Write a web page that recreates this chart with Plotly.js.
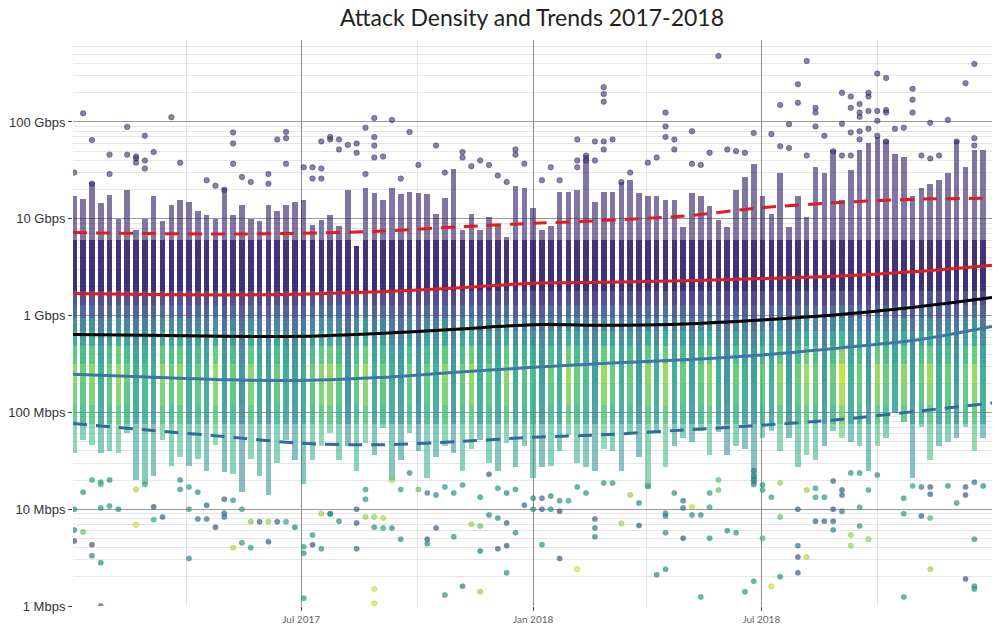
<!DOCTYPE html>
<html><head><meta charset="utf-8">
<script src="https://cdn.plot.ly/plotly-3.0.1.min.js"></script>
<style>html,body{margin:0;padding:0;background:#fff}#chart{width:1000px;height:631px}</style>
</head><body><div id="chart"></div>
<script>
// Weekly attack columns (week start)
const weeks = [
'2017-01-02','2017-01-09','2017-01-16','2017-01-23','2017-01-30','2017-02-06','2017-02-13','2017-02-20','2017-02-27',
'2017-03-06','2017-03-13','2017-03-20','2017-03-27','2017-04-03','2017-04-10','2017-04-17','2017-04-24',
'2017-05-01','2017-05-08','2017-05-15','2017-05-22','2017-05-29','2017-06-05','2017-06-12','2017-06-19','2017-06-26',
'2017-07-03','2017-07-10','2017-07-17','2017-07-24','2017-07-31','2017-08-07','2017-08-14','2017-08-21','2017-08-28',
'2017-09-04','2017-09-11','2017-09-18','2017-09-25','2017-10-02','2017-10-09','2017-10-16','2017-10-23','2017-10-30',
'2017-11-06','2017-11-13','2017-11-20','2017-11-27','2017-12-04','2017-12-11','2017-12-18','2017-12-25',
'2018-01-01','2018-01-08','2018-01-15','2018-01-22','2018-01-29','2018-02-05','2018-02-12','2018-02-19','2018-02-26',
'2018-03-05','2018-03-12','2018-03-19','2018-03-26','2018-04-02','2018-04-09','2018-04-16','2018-04-23','2018-04-30',
'2018-05-07','2018-05-14','2018-05-21','2018-05-28','2018-06-04','2018-06-11','2018-06-18','2018-06-25',
'2018-07-02','2018-07-09','2018-07-16','2018-07-23','2018-07-30','2018-08-06','2018-08-13','2018-08-20','2018-08-27',
'2018-09-03','2018-09-10','2018-09-17','2018-09-24','2018-10-01','2018-10-08','2018-10-15','2018-10-22','2018-10-29',
'2018-11-05','2018-11-12','2018-11-19','2018-11-26','2018-12-03','2018-12-10','2018-12-17','2018-12-24'];

// Top of the populated part of each weekly column (Mbps)
const colTopMbps = [17000,16000,24000,14600,17600,10000,20000,7700,10000,17000,9500,14000,15600,15000,12000,11000,10000,21000,11000,14000,10000,9500,14000,12000,14000,15000,15600,8700,
9800,11000,8400,20000,5200,21000,18500,15600,21000,18000,19000,18500,18000,11300,16500,33000,7700,11300,7700,10500,8700,6500,22000,21000,13000,7700,8400,19000,19000,20000,46000,15000,19000,19000,24000,25000,
18500,17000,17000,15600,15600,8200,18500,17000,13500,9800,8200,20000,27000,37000,17000,11300,30000,8200,17000,10500,34000,30000,51000,15600,32000,51000,60000,70000,65000,47000,44000,17000,21000,23000,25000,30000,65000,34000,51000,51000];

// Bottom of the populated part of each weekly column (Mbps)
const colBottomMbps = [38,52,46,38,40,38,61,20,18,22,52,28,35,28,33,25,46,24,23,15,33,22,14,30,52,32,18,32,
45,61,32,45,25,48,36,69,20,32,61,40,21,35,45,38,25,42,52,30,25,48,27,45,21,27,28,40,58,30,27,25,42,40,25,61,35,16,65,27,
45,55,50,65,36,62,36,45,42,18,55,65,40,55,27,36,32,45,65,55,50,45,25,45,55,98,80,21,70,32,45,50,55,70,40,55];

// Density tint of each column's middle section (0 = bluish, 1 = yellowish)
const colTint = [0.8,0.65,0.8,0.35,0.65,0.85,0.65,0.35,0.5,0.35,0.8,0.65,0.8,0.35,0.65,0.35,0.85,0.2,0.65,0.1,0.8,0.35,0.2,0.65,0.35,0.2,0.35,0.65,
0.8,0.85,0.65,0.1,0.65,0.85,0.35,0.65,0.35,0.2,0.65,0.1,0.65,0.35,0.8,0.2,0.65,0.85,0.35,0.65,0.35,0.8,0.35,0.55,0.5,
0.2,0.65,0.35,0.85,0.65,0.5,0.2,0.85,0.65,0.35,0.65,0.2,0.8,0.35,0.85,0.35,0.65,0.2,0.65,0.8,0.35,0.1,0.65,0.35,0.2,
0.65,0.35,0.8,0.2,0.65,0.85,0.65,0.2,0.65,1.0,0.35,0.65,0.2,0.85,0.65,0.35,0.8,0.2,0.65,0.85,0.35,0.65,0.2,0.65,0.85,0.35];

// Sparse large attacks above the columns: [week index, Mbps]
const highPoints = [
[1,123000],[2,65000],[6,89000],[8,72000],[11,112000],[12,38000],[18,78000],[18,60000],[18,37000],[23,66000],[24,79000],[24,68000],[24,37000],
[26,34000],[27,34000],[4,46000],[6,46000],[7,44000],[7,42000],[7,38000],[8,40000],[8,33000],[9,49000],[0,30000],[2,23000],[4,29000],
[15,25000],[16,22000],[17,20000],[19,27000],[20,24000],[22,29000],[22,23000],
[34,110000],[36,105000],[33,87000],[38,79000],[41,57000],[34,70000],[34,57000],[34,43000],[28,63000],[29,70000],[29,66000],[30,66000],
[31,58000],[32,60000],[32,48000],[35,44000],[44,49000],[44,43000],[50,52000],[50,46000],[51,37000],[47,36000],[49,24000],[57,66000],
[59,63000],[60,229000],[60,195000],[60,162000],[60,63000],[60,52000],[61,66000],[58,45000],[58,40000],[59,40000],[57,40000],[57,34000],
[54,34000],[55,25000],[63,30000],[62,24000],[39,36000],[37,26000],[27,26000],[28,33000],[28,26000],[30,52000],[33,29000],[45,35000],
[46,40000],[48,28000],[53,25000],[42,30000],
[73,480000],[83,427000],[91,316000],[92,285000],[102,398000],[101,252000],[82,245000],[82,158000],[80,150000],[87,200000],[88,183000],
[88,140000],[89,153000],[89,125000],[89,113000],[90,200000],[90,183000],[90,130000],[91,130000],[91,103000],[92,133000],[92,125000],
[95,220000],[95,170000],[95,125000],[84,140000],[84,125000],[81,95000],[84,90000],[85,72000],[87,96000],[88,78000],[89,80000],[89,66000],
[90,85000],[91,72000],[92,63000],[93,85000],[94,87000],[67,125000],[67,90000],[67,70000],[68,66000],[68,52000],[70,80000],[77,77000],
[79,75000],[102,68000],[102,57000],[100,63000],[65,38000],[66,43000],[70,37000],[71,36000],[72,48000],[74,52000],[75,50000],[76,48000],
[80,56000],[81,54000],[83,45000],[86,50000],[87,45000],[88,45000],[96,45000],[97,42000],[98,45000],[97,98000],[99,105000]];

// Sparse small attacks below the columns: [week index, Mbps, density]
const lowPoints = [
[0,10,0.5],[0,6.1,0.45],[1,5.8,0.75],[0,4.7,0.25],[2,4.3,0.3],[2,3.3,0.5],[3,2.8,0.5],[3,1.0,0.3],[1,15,0.55],[2,20,0.6],[3,19,0.6],
[3,18,0.7],[3,10.3,0.55],[4,10.8,0.55],[5,10,0.5],[4,20,0.55],[7,16,0.9],[7,6.9,0.95],[8,18,0.6],[9,10.6,0.3],[9,7.8,0.6],[10,8.3,0.35],
[12,20,0.5],[12,16,0.55],[13,17,0.6],[13,10,0.6],[13,3.1,0.45],[14,15,0.5],[14,7.9,0.4],[15,11,0.3],[15,7.9,0.4],[16,6.5,0.3],[17,12.7,0.3],
[17,9.1,0.35],[17,8.3,0.35],[18,12.4,0.55],[18,4,0.9],[19,4.5,0.55],[19,10,0.6],[20,4,0.55],[20,7.4,0.8],[21,7.4,0.3],[22,7.4,0.85],
[23,7.4,0.3],[24,7.4,0.6],[22,4.6,0.3],[25,6.5,0.45],[26,4.1,0.6],[26,3.5,0.55],[27,5.4,0.55],[27,4.3,0.25],[28,3.9,0.55],[26,1.2,0.55],
[28,9,0.85],[29,9,0.5],
[34,1.5,0.95],[34,1.07,0.95],[42,1.3,0.55],[44,1.6,0.4],[46,1.4,0.85],[49,2.2,0.5],[32,3.9,0.35],[37,4.9,0.5],[40,4.9,0.3],[40,4.4,0.5],
[43,5.2,0.55],[46,3.7,0.4],[48,3.9,0.3],[49,4.2,0.3],[50,5.7,0.5],[53,4.3,0.55],[55,3.1,0.3],[57,2.4,0.95],[66,2.1,0.5],[67,2.4,0.5],
[32,7.2,0.3],[33,8.3,0.85],[34,8.3,0.85],[35,8.1,0.9],[34,6.5,0.5],[35,6.4,0.6],[36,6.4,0.5],[41,6.4,0.3],[45,7,0.85],[46,6.7,0.75],
[47,8.7,0.5],[48,8.1,0.5],[49,7.2,0.3],[55,9.5,0.3],[59,7.9,0.35],[59,6.4,0.4],[59,5.2,0.45],[62,7.1,0.85],[64,6.8,0.3],[67,8.5,0.45],
[67,5.7,0.5],[29,8.9,0.5],[30,7.5,0.5],[32,10,0.35],[52,10,0.5],[53,10,0.3],[54,10,0.5],
[33,16,0.6],[33,12.7,0.55],[36,20,0.85],[37,16,0.6],[38,23.7,0.5],[39,16,0.75],[40,14.7,0.45],[41,14,0.5],[42,17,0.55],[43,14.7,0.5],
[44,17.8,0.55],[46,13.3,0.5],[47,23,0.3],[48,16.5,0.55],[49,14.7,0.45],[50,16,0.55],[51,11,0.35],[52,13,0.5],[53,13,0.35],[54,13.7,0.45],
[55,12.2,0.55],[56,12.2,0.6],[57,17,0.55],[58,14.7,0.55],[60,18.6,0.55],[61,18.6,0.55],[63,14,0.85],[64,11.6,0.5],[65,17.4,0.55],
[71,1.24,0.55],[76,1.4,0.55],[77,1.8,0.55],[79,1.6,0.95],[80,2.0,0.5],[82,2.2,0.3],[82,3.2,0.3],[82,4.2,0.4],[83,3.2,0.9],[94,1.24,0.55],
[101,1.9,0.25],[102,1.6,0.55],[102,1.5,0.5],[97,2.4,0.85],[69,5,0.3],[72,5,0.55],[74,6,0.5],[75,5.7,0.55],[78,5,0.7],
[84,7.5,0.3],[85,7.5,0.3],[86,7.5,0.3],[86,6.1,0.45],[88,5.4,0.85],[88,4.2,0.85],[89,6.7,0.55],[90,4.9,0.85],[102,4.9,0.5],[80,8.3,0.75],
[82,10,0.3],[86,10,0.3],[87,9.5,0.4],[89,10.5,0.6],[94,9,0.55],[96,8.5,0.3],[97,8.1,0.7],[67,9.1,0.45],[68,14.7,0.55],[70,10.5,0.9],
[70,8.7,0.55],[71,8.7,0.5],[72,10.5,0.6],[69,12.2,0.35],[69,10.3,0.35],[72,14.7,0.6],[73,15.8,0.75],[73,20,0.75],[77,25,0.45],[77,22,0.45],
[77,20,0.45],[77,18,0.45],[78,17.8,0.55],[78,15.8,0.6],[79,13.3,0.6],[80,18.6,0.85],[83,15.8,0.85],[84,16.5,0.6],[84,13.3,0.6],[85,13.3,0.55],
[86,19.5,0.3],[87,15.8,0.3],[87,14,0.3],[88,23.7,0.55],[89,23.7,0.55],[90,15.8,0.6],[91,22.5,0.5],[94,13,0.55],[95,17.4,0.6],[96,17,0.5],
[97,17,0.3],[97,14.3,0.3],[99,17.4,0.55],[100,11.6,0.55],[101,17,0.3],[101,14,0.3],[102,19,0.35],[103,17.4,0.5]];

// Trend lines (Mbps)
const trendDates = ['2017-01-01','2017-03-01','2017-05-01','2017-07-01','2017-09-01','2017-11-01','2018-01-01','2018-03-01','2018-05-01','2018-07-01','2018-09-01','2018-11-01','2018-12-31'];
const upperDashed = [7200,7050,6970,7080,7430,8230,8980,9640,10680,13000,14730,15930,16290];
const upperSolid  = [1695,1656,1633,1663,1766,1928,2161,2208,2287,2410,2564,2855,3318];
const medianLine  = [639,626,611,611,653,722,805,796,819,901,1026,1227,1539];
const lowerSolid  = [248,232,217,214,229,260,292,322,349,392,463,559,772];
const lowerDashed = [76.6,65.8,56.3,48.0,46.3,49.8,55.3,59.1,65.8,73.6,84.5,102.7,125];

const yTickVals = [1,10,100,1000,10000,100000];
const yTickText = ['1 Mbps','10 Mbps','100 Mbps','1 Gbps','10 Gbps','100 Gbps'];
const xTickVals = ['2017-07-01','2018-01-01','2018-07-01'];
const xTickText = ['Jul 2017','Jan 2018','Jul 2018'];
const xMinorVals = ['2017-04-01','2017-10-01','2018-04-01','2018-10-01'];

// ---- style helpers ----
const vir = [[68,1,84],[72,36,117],[65,68,135],[53,95,141],[42,120,142],[33,145,140],[34,168,132],[68,191,112],[122,209,81],[189,223,38],[253,231,37]];
function viridis(v, a) {
  v = Math.max(0, Math.min(1, v)) * 10;
  const i = Math.min(9, Math.floor(v)), f = v - i;
  const c = vir[i].map((x,k) => Math.round(x + (vir[i+1][k]-x)*f));
  return 'rgba(' + c.join(',') + ',' + a + ')';
}
// colour bands used to paint the populated columns (gradient from indigo down to green)
const bands = [
  {lo:6000, hi:1e9,  fixed:'rgba(52,34,105,0.62)'},
  {lo:3000, hi:6000, fixed:'rgba(42,24,98,0.88)'},
  {lo:1800, hi:3000, fixed:'rgba(40,28,104,0.9)'},
  {lo:1300, hi:1800, v:t=>0.13+0.08*t,   a:0.9},
  {lo:950,  hi:1300, v:t=>0.18+0.13*t,   a:0.88},
  {lo:700,  hi:950,  v:t=>0.25+0.22*t,   a:0.86},
  {lo:480,  hi:700,  v:t=>0.31+0.3*t,    a:0.85},
  {lo:320,  hi:480,  v:t=>0.37+0.42*t,   a:0.85},
  {lo:200,  hi:320,  v:t=>0.40+0.5*t,    a:0.85},
  {lo:120,  hi:200,  v:t=>0.40+0.45*t,   a:0.82},
  {lo:75,   hi:120,  v:t=>0.38+0.38*t,   a:0.78},
  {lo:0,    hi:75,   v:t=>0.42+0.3*t,    a:0.55}
];

const traces = [];
const barW = 4.4*86400000;
bands.forEach(b => {
  const base = [], len = [], col = [];
  weeks.forEach((w,i) => {
    const lo = Math.max(colBottomMbps[i], b.lo), hi = Math.min(colTopMbps[i], b.hi);
    if (hi > lo) { base.push(lo); len.push(hi - lo); } else { base.push(null); len.push(null); }
    col.push(b.fixed || viridis(b.v(colTint[i]), b.a));
  });
  traces.push({type:'bar', x:weeks, y:len, base:base, width:barW, marker:{color:col, line:{width:0}}, hoverinfo:'skip', showlegend:false});
});

traces.push({type:'scatter', mode:'markers', x:highPoints.map(p=>weeks[p[0]]), y:highPoints.map(p=>p[1]),
  marker:{size:5.5, color:'rgba(70,50,118,0.62)', line:{width:0.7, color:'rgba(35,20,70,0.55)'}}, showlegend:false, hoverinfo:'skip'});
traces.push({type:'scatter', mode:'markers', x:lowPoints.map(p=>weeks[p[0]]), y:lowPoints.map(p=>p[1]),
  marker:{size:5.5, color:lowPoints.map(p=>p[2]), colorscale:'Viridis', cmin:0, cmax:1, opacity:0.7, line:{width:0.5, color:'rgba(0,0,0,0.25)'}}, showlegend:false, hoverinfo:'skip'});

const lineSpec = [
  [upperDashed,'#e41a1c','14px,9px'],
  [upperSolid,'#e41a1c','solid'],
  [medianLine,'#000000','solid'],
  [lowerSolid,'#3a78a8','solid'],
  [lowerDashed,'#2f6b9c','14px,9px']
];
lineSpec.forEach(s => traces.push({type:'scatter', mode:'lines', x:trendDates, y:s[0],
  line:{color:s[1], width:3, dash:s[2], shape:'spline', smoothing:0.8}, showlegend:false, hoverinfo:'skip'}));

const minorY = [];
[1,10,100,1000,10000,100000].forEach(d => [2,3,4,5,6,7,8,9].forEach(k => minorY.push(d*k)));

const layout = {
  width:1000, height:631,
  margin:{l:73, r:8, t:40, b:25, pad:0},
  paper_bgcolor:'#fff', plot_bgcolor:'#fff',
  barmode:'overlay', bargap:0,
  showlegend:false,
  title:{text:'Attack Density and Trends 2017-2018', font:{family:'Lato, sans-serif', size:23, color:'#222'}, x:0.532, xanchor:'center', y:0.972, yanchor:'middle'},
  xaxis:{type:'date', range:['2017-01-01','2018-12-31'], tickmode:'array', tickvals:xTickVals, ticktext:xTickText,
    ticks:'outside', ticklen:4, tickcolor:'#444', tickfont:{family:'Lato, sans-serif', size:10, color:'#666'},
    showgrid:true, gridcolor:'#8c8c8c', gridwidth:1, zeroline:false, showline:false,
    minor:{tickmode:'array', tickvals:xMinorVals, showgrid:true, gridcolor:'#e4e4e4', ticks:''}},
  yaxis:{type:'log', range:[0, 5.847], tickmode:'array', tickvals:yTickVals, ticktext:yTickText,
    ticks:'outside', ticklen:4, tickcolor:'#444', tickfont:{family:'Liberation Sans, Arial, sans-serif', size:13, color:'#333'},
    showgrid:true, gridcolor:'#9a9a9a', gridwidth:1, zeroline:false, showline:false,
    minor:{tickmode:'array', tickvals:minorY, showgrid:true, gridcolor:'#e6e6e6', ticks:''}}
};

Plotly.newPlot('chart', traces, layout, {displayModeBar:false, staticPlot:true});
</script></body></html>
